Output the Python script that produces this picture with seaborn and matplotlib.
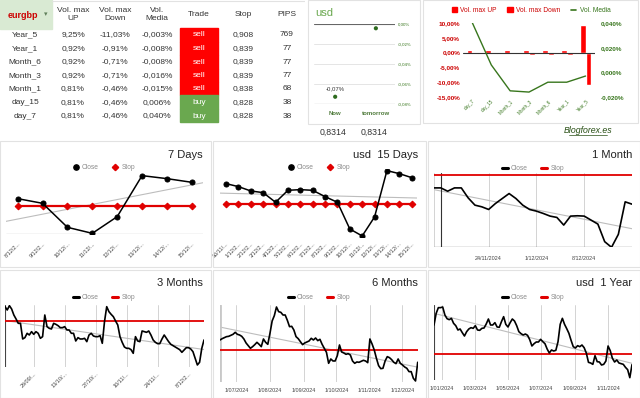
import numpy as np
import pandas as pd
import matplotlib
matplotlib.use("Agg")
import matplotlib.pyplot as plt
import matplotlib.dates as mdates
from matplotlib.patches import Rectangle
from matplotlib.lines import Line2D
from matplotlib.ticker import FuncFormatter
import seaborn as sns

# --- Summary table (eurgbp) ---
periods = ["Year_5", "Year_1", "Month_6", "Month_3", "Month_1", "day_15", "day_7"]
vol_up = [9.25, 0.92, 0.92, 0.92, 0.81, 0.81, 0.81]
vol_down = [-11.03, -0.91, -0.71, -0.71, -0.46, -0.46, -0.46]
vol_media = [-0.003, -0.008, -0.008, -0.016, -0.015, 0.006, 0.040]
trades = ["sell", "sell", "sell", "sell", "sell", "buy", "buy"]
stops = [0.908, 0.839, 0.839, 0.839, 0.838, 0.828, 0.828]
pips = [769, 77, 77, 77, 68, 38, 38]

# --- usd forecast ---
usd_labels = ["Now", "tomorrow"]
usd_change = [-0.073, -0.004]
usd_price = [0.8314, 0.8314]

# --- 7 days ---
d7_labels = ["8/12/2...", "9/12/2...", "10/12/...", "11/12/...", "12/12/...",
             "13/12/...", "14/12/...", "15/12/..."]
d7_close = [0.8301, 0.8287, 0.8215, 0.8197, 0.8247, 0.8370, 0.8361, 0.8350]
d7_stop = 0.828

# --- 15 days ---
d15_labels = ["30/11/...", "1/12/2...", "2/12/2...", "3/12/2...", "4/12/2...",
              "5/12/2...", "6/12/2...", "7/12/2...", "8/12/2...", "9/12/2...",
              "10/12/...", "11/12/...", "12/12/...", "13/12/...", "14/12/...", "15/12/..."]
d15_close = [0.8342, 0.8333, 0.8320, 0.8315, 0.8286, 0.8322, 0.8324, 0.8322,
             0.8303, 0.8286, 0.8206, 0.8185, 0.8242, 0.8381, 0.8372, 0.8360]
d15_stop = 0.828

# --- 1 month ---
m1_close = [0.8342, 0.8342, 0.8332, 0.8342, 0.8342, 0.8312, 0.8290, 0.8285, 0.8277, 0.8295,
            0.8310, 0.8325, 0.8310, 0.8290, 0.8277, 0.8272, 0.8265, 0.8257, 0.8253, 0.8230,
            0.8257, 0.8258, 0.8257, 0.8245, 0.8233, 0.8180, 0.8163, 0.8202, 0.8300, 0.8293]
m1_stop = 0.838
m1_ticks = ["2024-11-17", "2024-11-24", "2024-12-01", "2024-12-08"]
m1_ticklabels = ["", "24/11/2024", "1/12/2024", "8/12/2024"]

# --- 3 months ---
m3_close = [0.8433, 0.8423, 0.8436, 0.8426, 0.8408, 0.8396, 0.8383, 0.8383, 0.8336, 0.8340,
            0.8353, 0.8348, 0.8358, 0.8350, 0.8358, 0.8353, 0.8338, 0.8343, 0.8408, 0.8373,
            0.8368, 0.8366, 0.8383, 0.8380, 0.8376, 0.8370, 0.8370, 0.8373, 0.8363, 0.8363,
            0.8353, 0.8353, 0.8330, 0.8340, 0.8336, 0.8336, 0.8338, 0.8328, 0.8348, 0.8353,
            0.8345, 0.8343, 0.8343, 0.8346, 0.8323, 0.8388, 0.8433, 0.8418, 0.8410, 0.8403,
            0.8390, 0.8378, 0.8343, 0.8326, 0.8312, 0.8308, 0.8308, 0.8304, 0.8293, 0.8343,
            0.8330, 0.8328, 0.8360, 0.8358, 0.8356, 0.8360, 0.8348, 0.8333, 0.8326, 0.8322,
            0.8322, 0.8336, 0.8348, 0.8338, 0.8328, 0.8320, 0.8316, 0.8312, 0.8308, 0.8304,
            0.8296, 0.8303, 0.8310, 0.8310, 0.8306, 0.8298, 0.8278, 0.8258, 0.8266, 0.8308,
            0.8333]
m3_stop = 0.839
m3_ticks = ["2024-09-29", "2024-10-13", "2024-10-27", "2024-11-10", "2024-11-24", "2024-12-08"]
m3_ticklabels = ["29/09/...", "13/10/...", "27/10/...", "10/11/...", "24/11/...", "8/12/2..."]

# --- 6 months (every 2 days) ---
m6_close = [0.8420, 0.8424, 0.8427, 0.8430, 0.8431, 0.8434, 0.8437, 0.8443, 0.8437, 0.8435,
            0.8431, 0.8423, 0.8411, 0.8403, 0.8395, 0.8400, 0.8406, 0.8413, 0.8407, 0.8400,
            0.8423, 0.8413, 0.8407, 0.8440, 0.8477, 0.8493, 0.8519, 0.8505, 0.8503, 0.8495,
            0.8495, 0.8479, 0.8460, 0.8461, 0.8450, 0.8430, 0.8424, 0.8415, 0.8406, 0.8411,
            0.8414, 0.8417, 0.8425, 0.8420, 0.8426, 0.8418, 0.8422, 0.8407, 0.8395, 0.8383,
            0.8350, 0.8363, 0.8357, 0.8357, 0.8373, 0.8405, 0.8384, 0.8381, 0.8377, 0.8379,
            0.8375, 0.8357, 0.8350, 0.8354, 0.8353, 0.8356, 0.8359, 0.8357, 0.8352, 0.8423,
            0.8408, 0.8390, 0.8365, 0.8343, 0.8334, 0.8335, 0.8357, 0.8370, 0.8367, 0.8361,
            0.8353, 0.8349, 0.8363, 0.8350, 0.8345, 0.8339, 0.8335, 0.8325, 0.8325, 0.8305,
            0.8297, 0.8353]
m6_stop = 0.839
m6_ticks = ["2024-07-01", "2024-08-01", "2024-09-01", "2024-10-01", "2024-11-01", "2024-12-01"]
m6_ticklabels = ["1/07/2024", "1/08/2024", "1/09/2024", "1/10/2024", "1/11/2024", "1/12/2024"]

# --- 1 year (every 4 days) ---
y1_close = [0.8478, 0.8513, 0.8530, 0.8530, 0.8532, 0.8508, 0.8497, 0.8494, 0.8498, 0.8483,
            0.8476, 0.8463, 0.8466, 0.8455, 0.8445, 0.8458, 0.8466, 0.8470, 0.8468, 0.8476,
            0.8463, 0.8462, 0.8468, 0.8469, 0.8481, 0.8496, 0.8478, 0.8478, 0.8485, 0.8472,
            0.8471, 0.8488, 0.8503, 0.8480, 0.8472, 0.8485, 0.8496, 0.8490, 0.8476, 0.8458,
            0.8452, 0.8448, 0.8451, 0.8447, 0.8434, 0.8415, 0.8422, 0.8427, 0.8427, 0.8435,
            0.8428, 0.8422, 0.8406, 0.8394, 0.8403, 0.8400, 0.8402, 0.8428, 0.8480, 0.8498,
            0.8480, 0.8467, 0.8453, 0.8432, 0.8413, 0.8409, 0.8416, 0.8413, 0.8418, 0.8410,
            0.8394, 0.8366, 0.8364, 0.8360, 0.8386, 0.8368, 0.8367, 0.8358, 0.8360, 0.8370,
            0.8415, 0.8401, 0.8378, 0.8367, 0.8373, 0.8364, 0.8362, 0.8360, 0.8351, 0.8344,
            0.8320, 0.8359]
y1_stop = 0.839
y1_ticks = ["2024-01-01", "2024-03-01", "2024-05-01", "2024-07-01", "2024-09-01", "2024-11-01"]
y1_ticklabels = ["1/01/2024", "1/03/2024", "1/05/2024", "1/07/2024", "1/09/2024", "1/11/2024"]

m1_dates = pd.date_range("2024-11-16", "2024-12-15", freq="D")
m3_dates = pd.date_range("2024-09-16", "2024-12-15", freq="D")
m6_dates = pd.date_range("2024-06-16", "2024-12-15", freq="2D")
y1_dates = pd.date_range("2023-12-17", periods=len(y1_close), freq="4D")

# --- Style ---
sns.set_style("white")
plt.rcParams["font.family"] = ["Liberation Sans", "DejaVu Sans"]

W, H = 640, 398
RED = "#ff0000"
GREEN = "#6aa84f"
DKGREEN = "#38761d"
fig = plt.figure(figsize=(W / 100, H / 100), dpi=100)


def px_axes(x0, y0, x1, y1):
    return fig.add_axes([x0 / W, 1 - y1 / H, (x1 - x0) / W, (y1 - y0) / H])


def frame(x0, y0, x1, y1):
    fig.patches.append(Rectangle((x0 / W, 1 - y1 / H), (x1 - x0) / W, (y1 - y0) / H,
                                 transform=fig.transFigure, fill=False,
                                 ec="#e2e2e2", lw=0.8))


def es(v, fmt):
    return format(v, fmt).replace(".", ",")


# ---------------- table ----------------
ax_t = px_axes(0, 0, 305, 130)
ax_t.set_xlim(0, 305)
ax_t.set_ylim(130, 0)
ax_t.axis("off")
ax_t.add_patch(Rectangle((0, 0), 52, 29, color="#d9ead3"))
ax_t.plot([52, 305], [0.5, 0.5], color="#e2e2e2", lw=0.8)
ax_t.text(8, 15, "eurgbp", color="#cc0000", fontsize=6.5, fontweight="bold", va="center")
ax_t.text(44, 15, "▾", color="#5f7f5a", fontsize=5, va="center")
headers = ["Vol. max\nUP", "Vol. max\nDown", "Vol.\nMedia", "Trade", "Stop", "PIPS"]
col_x = [25, 73, 115, 157, 199, 243, 287]
for cx, h in zip(col_x[1:], headers):
    ax_t.text(cx, 14.5, h, ha="center", va="center", fontsize=6, color="#333333",
              linespacing=1.05)
for i, p in enumerate(periods):
    y = 35 + 13.5 * i
    ax_t.add_patch(Rectangle((180, 28.3 + 13.4 * i), 38, 13.4,
                             color=RED if trades[i] == "sell" else GREEN))
    cells = [p, es(vol_up[i], ".2f") + "%", es(vol_down[i], ".2f") + "%",
             es(vol_media[i], ".3f") + "%", trades[i], es(stops[i], ".3f"), str(pips[i])]
    for j, (cx, txt) in enumerate(zip(col_x, cells)):
        ax_t.text(cx, y, txt, ha="center", va="center", fontsize=6,
                  color="white" if j == 4 else "#333333")

# ---------------- usd forecast ----------------
frame(308, 0, 420, 124)
fig.text(315 / W, 1 - 12.5 / H, "usd", color=GREEN, fontsize=8, va="center")
ax_u = px_axes(314, 24.3, 395, 103.7)
sns.scatterplot(x=np.arange(len(usd_labels)), y=usd_change, color="#2e6b1f", s=9,
                ax=ax_u, zorder=5, edgecolor="none")
ax_u.set_ylim(-0.08, 0.0)
ax_u.set_xlim(-0.52, 1.47)
for v in [-0.02, -0.04, -0.06]:
    ax_u.axhline(v, color="#e0e0e0", lw=0.6)
ax_u.axhline(0, color="#666666", lw=0.8)
ax_u.axhline(-0.08, color="#666666", lw=0.8)
for s in ax_u.spines.values():
    s.set_visible(False)
ax_u.yaxis.tick_right()
ax_u.set_yticks([0, -0.02, -0.04, -0.06, -0.08])
ax_u.set_yticklabels([es(v, ".2f") + "%" for v in [0, -0.02, -0.04, -0.06, -0.08]],
                     fontsize=3.2, color=DKGREEN)
ax_u.tick_params(axis="y", length=0, pad=2)
ax_u.set_xticks(np.arange(len(usd_labels)))
ax_u.set_xticklabels(usd_labels, fontsize=4.3, color="#4e7a3a", fontweight="bold")
ax_u.tick_params(axis="x", direction="inout", length=4, width=0.6, color="#555555", pad=3)
ax_u.text(0, usd_change[0] + 0.006, es(round(usd_change[0], 2), ".2f") + "%",
          ha="center", va="bottom", fontsize=4.3, color="#333333")
for i, pr in enumerate(usd_price):
    fig.text((333 + 41 * i) / W, 1 - 132 / H, es(pr, ".4f"), ha="center", va="center",
             fontsize=6.3, color="#333333")

# ---------------- volatility bars ----------------
frame(423, 0, 638, 123)
bar_periods = periods[::-1]
bar_df = pd.DataFrame({
    "period": bar_periods * 2,
    "kind": ["up"] * 7 + ["down"] * 7,
    "value": vol_up[::-1] + vol_down[::-1],
})
ax_b = px_axes(463, 23, 595, 97)
sns.barplot(data=bar_df, x="period", y="value", hue="kind", order=bar_periods,
            hue_order=["up", "down"], palette=[RED, RED], saturation=1, width=0.62,
            legend=False, ax=ax_b)
ax_b.axhline(0, color="#333333", lw=0.8)
ax_b.set_ylim(-15, 10)
ax_b.set_yticks([10, 5, 0, -5, -10, -15])
ax_b.yaxis.set_major_formatter(FuncFormatter(lambda v, p: es(v, ".2f") + "%"))
ax_b.tick_params(axis="y", length=0, pad=2, labelsize=4.6, labelcolor="#cc0000")
for lab in ax_b.get_yticklabels():
    lab.set_fontweight("bold")
ax_b.set_xlabel("")
ax_b.set_ylabel("")
ax_b.tick_params(axis="x", length=0, pad=1)
ax_b.set_xticks(np.arange(7))
ax_b.set_xticklabels(bar_periods, rotation=45, ha="right", rotation_mode="anchor",
                     fontsize=3.3, color=DKGREEN)
ax_m = ax_b.twinx()
sns.lineplot(x=np.arange(7), y=vol_media[::-1], color=DKGREEN, lw=1.0, ax=ax_m)
ax_m.set_ylim(-0.02, 0.04)
ax_m.set_yticks([0.04, 0.02, 0, -0.02])
ax_m.yaxis.set_major_formatter(FuncFormatter(lambda v, p: es(v, ".3f") + "%"))
ax_m.tick_params(axis="y", length=0, pad=4, labelsize=4.6, labelcolor=DKGREEN)
for lab in ax_m.get_yticklabels():
    lab.set_fontweight("bold")
ax_m.set_ylabel("")
for a in (ax_b, ax_m):
    for s in a.spines.values():
        s.set_visible(False)
ax_b.set_xlim(-0.5, 6.5)
leg = fig.legend(handles=[Rectangle((0, 0), 1, 1, color=RED), Rectangle((0, 0), 1, 1, color=RED),
                          Line2D([], [], color=DKGREEN, lw=1.2)],
                 labels=["Vol. max UP", "Vol. max Down", "Vol. Media"], loc="center",
                 bbox_to_anchor=(531 / W, 1 - 10.5 / H), ncol=3, frameon=False, fontsize=4.8,
                 handlelength=0.8, handleheight=0.8, handletextpad=0.5, columnspacing=1.6,
                 labelcolor=["#cc0000", "#cc0000", DKGREEN], borderpad=0)
fig.text(588 / W, 1 - 130.5 / H, "Blogforex.es", ha="center", va="center", fontsize=6.3,
         style="italic", color="#274e13")
fig.lines.append(Line2D([569 / W, 607 / W], [1 - 134.5 / H, 1 - 134.5 / H],
                        transform=fig.transFigure, color="#274e13", lw=0.5))


# ---------------- price panels ----------------
def panel_header(box, title, legend_x, legend_y, handles):
    frame(*box)
    fig.text((box[2] - 8) / W, 1 - (box[1] + 13.5) / H, title, ha="right", va="center",
             fontsize=8, color="#222222")
    fig.legend(handles=handles, labels=["Close", "Stop"], loc="center",
               bbox_to_anchor=(legend_x / W, 1 - legend_y / H), ncol=2, frameon=False,
               fontsize=4.8, labelcolor="#8c8c8c", handlelength=0.9, handletextpad=0.5,
               columnspacing=2.0, borderpad=0)


def add_trend(ax, xn, y):
    k, b = np.polyfit(xn, y, 1)
    lo, hi = ax.get_xlim()
    ax.plot([lo, hi], [k * lo + b, k * hi + b], color="#bdbdbd", lw=0.8, zorder=1)


def clean(ax):
    for s in ax.spines.values():
        s.set_visible(False)
    ax.set_xlabel("")
    ax.set_ylabel("")
    ax.set_yticks([])
    ax.patch.set_alpha(0)


point_handles = [Line2D([], [], marker="o", color="black", ls="None", markersize=3.8),
                 Line2D([], [], marker="D", color="#e00000", ls="None", markersize=3.2)]
line_handles = [Line2D([], [], color="black", lw=2.2),
                Line2D([], [], color="#e00000", lw=2.2)]


def category_panel(box, area, title, legend_x, labels, close, stop, ylim, xlim, baseline):
    panel_header(box, title, legend_x, box[1] + 26.5, point_handles)
    ax = px_axes(*area)
    idx = np.arange(len(close))
    ax.set_xlim(*xlim)
    add_trend(ax, idx, close)
    sns.lineplot(x=idx, y=[stop] * len(idx), color="#e00000", lw=1.6, marker="D",
                 markersize=3.4, markeredgecolor="#e00000", ax=ax, zorder=3)
    sns.lineplot(x=idx, y=close, color="black", lw=1.1, marker="o", markersize=3.6,
                 markeredgecolor="black", ax=ax, zorder=4)
    ax.set_ylim(*ylim)
    ax.set_xlim(*xlim)
    clean(ax)
    if baseline:
        ax.axhline(ylim[0], color="#555555", lw=0.8)
    ax.set_xticks(idx)
    ax.set_xticklabels(labels, rotation=45, ha="right", rotation_mode="anchor",
                       fontsize=4, color="#444444")
    ax.tick_params(axis="x", direction="inout", length=4 if baseline else 0, width=0.6,
                   color="#555555", pad=3)
    return ax


def date_panel(box, area, title, legend_x, dates, close, stop, ylim, ticks, ticklabels,
               rotate, left_color, left_lw):
    panel_header(box, title, legend_x, box[1] + 27.5, line_handles)
    ax = px_axes(*area)
    ax.set_xlim(dates[0], dates[-1])
    add_trend(ax, mdates.date2num(dates), close)
    ax.axhline(stop, color="#e00000", lw=1.3, zorder=3)
    sns.lineplot(x=dates, y=close, color="black", lw=1.2, ax=ax, zorder=4)
    ax.set_ylim(*ylim)
    ax.set_xlim(dates[0], dates[-1])
    clean(ax)
    ax.axvline(dates[0], color=left_color, lw=left_lw, zorder=2)
    tick_dates = pd.to_datetime(ticks)
    ax.set_xticks(tick_dates)
    ax.xaxis.grid(True, color="#cccccc", lw=0.6)
    if rotate:
        ax.set_xticklabels(ticklabels, rotation=45, ha="right", rotation_mode="anchor",
                           fontsize=4, color="#444444")
    else:
        ax.set_xticklabels(ticklabels, fontsize=3.9, color="#444444")
    ax.tick_params(axis="x", length=0, pad=3 if rotate else 4)
    return ax


category_panel((0, 141, 211, 267), (6, 173.3, 203, 234), "7 Days", 104,
               d7_labels, d7_close, d7_stop, (0.8195, 0.8377), (-0.47, 7.45), True)
category_panel((213, 141, 426, 267), (220, 169.3, 417, 237.3), "usd  15 Days", 319,
               d15_labels, d15_close, d15_stop, (0.8181, 0.8385), (-0.49, 15.43), False)

ax1m = date_panel((428, 141, 640, 267), (434, 173.3, 632, 247.3), "1 Month", 533,
                  m1_dates, m1_close, m1_stop, (0.8163, 0.8386), m1_ticks, m1_ticklabels,
                  False, "#cccccc", 0.6)
ax1m.axhline(0.8163, color="#555555", lw=0.9)
ax1m.axvline(pd.Timestamp(m1_ticks[0]), color="#333333", lw=0.8)
ax1m.tick_params(axis="x", direction="inout", length=4, width=0.6, color="#555555")

date_panel((0, 270, 211, 398), (5, 305, 204, 367.3), "3 Months", 104,
           m3_dates, m3_close, m3_stop, (0.8251, 0.8438), m3_ticks, m3_ticklabels,
           True, "#444444", 0.8)
date_panel((213, 270, 426, 398), (220, 305, 417.7, 382.3), "6 Months", 319,
           m6_dates, m6_close, m6_stop, (0.8293, 0.8525), m6_ticks, m6_ticklabels,
           False, "#c8c8c8", 2.0)
date_panel((428, 270, 640, 398), (434, 305, 632, 380), "usd  1 Year", 533,
           y1_dates, y1_close, y1_stop, (0.8313, 0.8538), y1_ticks, y1_ticklabels,
           False, "#444444", 0.8)

fig.savefig("out.png", dpi=100)
